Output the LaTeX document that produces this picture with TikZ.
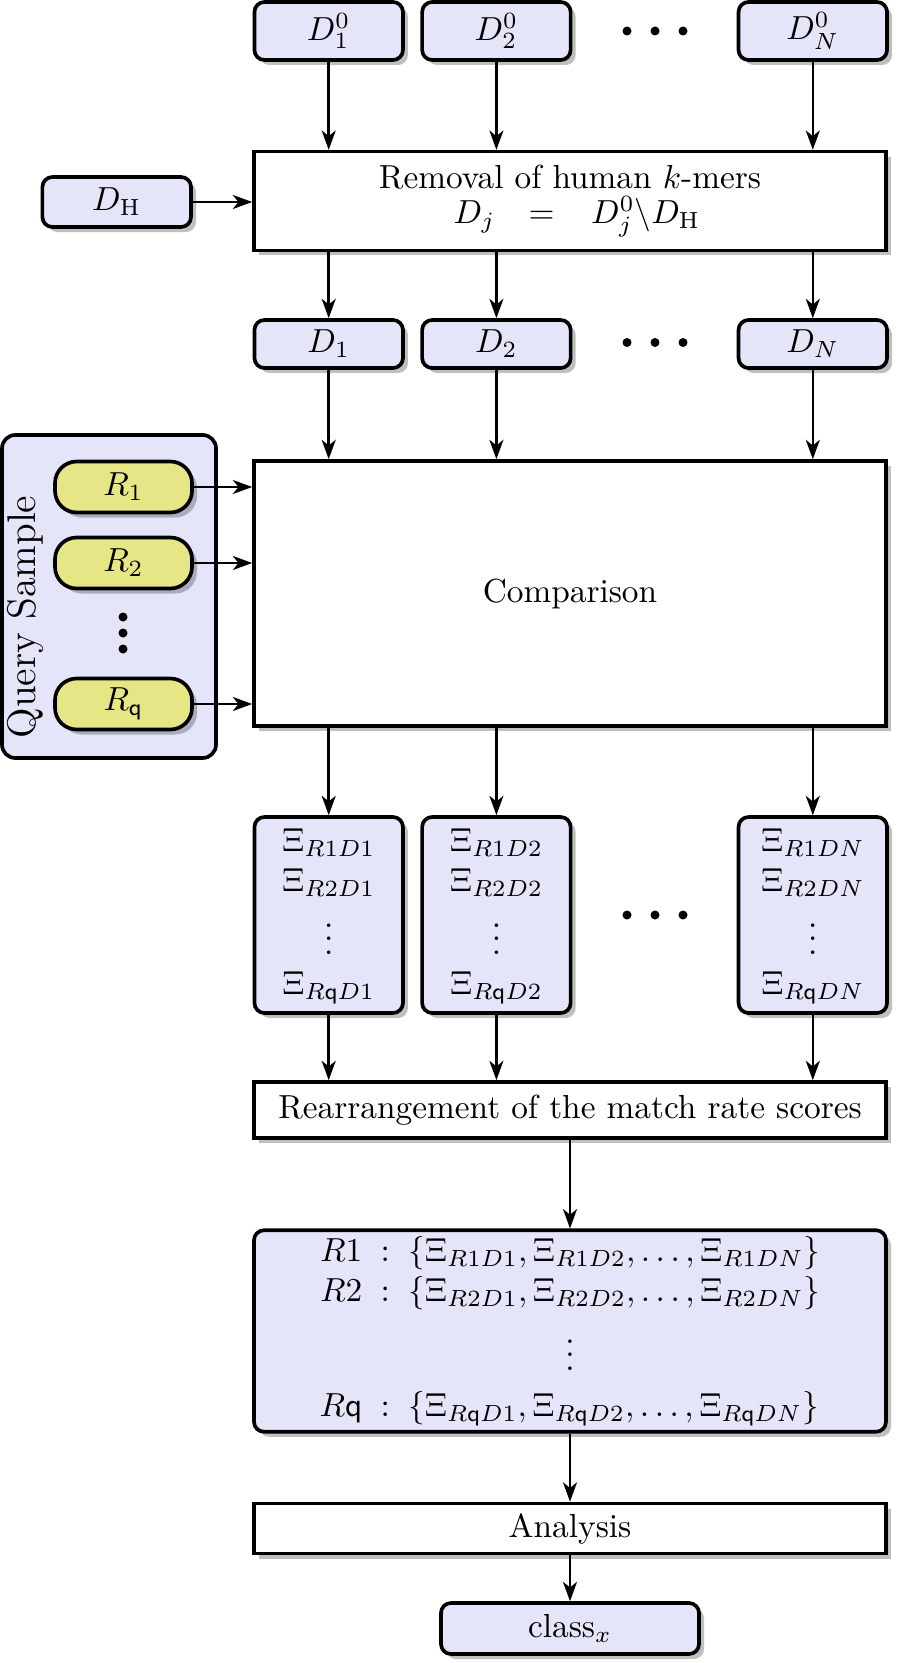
\documentclass[tikz,border=0pt]{standalone}
\usepackage{amsmath}
\usetikzlibrary{arrows.meta,shadows}
\definecolor{lav}{RGB}{229,229,250}
\definecolor{ylw}{RGB}{230,230,135}
\begin{document}
\begin{tikzpicture}[x=0.3pt,y=-0.3pt,
  shad/.style={drop shadow={shadow xshift=1.5pt,shadow yshift=-1.5pt,fill=black,opacity=0.25}},
  wh/.style 2 args={minimum width=#1*0.3pt,minimum height=#2*0.3pt},
  dbox/.style={draw,line width=1.1pt,rounded corners=3pt,fill=lav,shad,inner sep=0pt},
  pbox/.style={draw,line width=1.1pt,fill=white,shad,inner sep=0pt},
  rbox/.style={draw,line width=1.1pt,rounded corners=6.5pt,fill=ylw,shad,inner sep=0pt,wh={137}{51}},
  arr/.style={line width=0.75pt,-{Stealth[length=5.8pt,width=4.2pt,inset=1.7pt]}},
  bdot/.style={circle,fill=black,inner sep=0pt,minimum size=2.7pt},
]
\useasboundingbox (0,0) rectangle (896,1663);

% top row
\node[dbox,wh={148.5}{58}] (d10) at (328.7,31) {$D_1^0$};
\node[dbox,wh={148.5}{58}] (d20) at (496.4,31) {$D_2^0$};
\node[dbox,wh={148.5}{58}] (dN0) at (812.8,31) {$D_N^0$};
\node[bdot] (ta) at (627,31) {};
\node[bdot] (tb) at (655,31) {};
\node[bdot] (tc) at (683,31) {};

% removal
\node[pbox,wh={632}{98.7}] (rem) at (570,201) {};
\node (remA) at (570,177) {Removal of human $k$-mers};
\node (remB) at (577,217) {$D_j\hspace{10pt}{=}\hspace{11pt}D_j^0\backslash D_{\mathrm{H}}$};
\node[dbox,wh={148.6}{50}] (dH) at (116.7,202) {$D_{\mathrm{H}}$};

% second row
\node[dbox,wh={148.5}{48}] (d1) at (328.7,344) {$D_1$};
\node[dbox,wh={148.5}{48}] (d2) at (496.4,344) {$D_2$};
\node[dbox,wh={148.5}{48}] (dN) at (812.8,344) {$D_N$};
\node[bdot] (sa) at (627,342.5) {};
\node[bdot] (sb) at (655,342.5) {};
\node[bdot] (sc) at (683,342.5) {};

% comparison
\node[pbox,wh={632}{265}] (comp) at (570,593.5) {Comparison};

% query sample
\node[draw,line width=1.1pt,rounded corners=4pt,fill=lav,inner sep=0pt,wh={214}{323}] (qs) at (109,596.5) {};
\node[rotate=90,font=\large,inner sep=0pt] (qsl) at (25,617) {Query Sample};
\node[rbox] (r1) at (123.5,487) {$R_1$};
\node[rbox] (r2) at (123.5,563) {$R_2$};
\node[rbox] (rq) at (123.5,704) {$R_{\mathsf{q}}$};
\node[bdot] (qa) at (123,617) {};
\node[bdot] (qb) at (123,633) {};
\node[bdot] (qc) at (123,649) {};

% Xi boxes
\node[dbox,wh={148.5}{196}] (x1) at (328.7,915)
  {$\begin{array}{c}\Xi_{R1D1}\\ \Xi_{R2D1}\\ \vdots\\ \Xi_{R\mathsf{q}D1}\end{array}$};
\node[dbox,wh={148.5}{196}] (x2) at (496.4,915)
  {$\begin{array}{c}\Xi_{R1D2}\\ \Xi_{R2D2}\\ \vdots\\ \Xi_{R\mathsf{q}D2}\end{array}$};
\node[dbox,wh={148.5}{196}] (xN) at (812.8,915)
  {$\begin{array}{c}\Xi_{R1DN}\\ \Xi_{R2DN}\\ \vdots\\ \Xi_{R\mathsf{q}DN}\end{array}$};
\node[bdot] (ma) at (627,915) {};
\node[bdot] (mb) at (655,915) {};
\node[bdot] (mc) at (683,915) {};

% rearrangement
\node[pbox,wh={632}{56}] (rea) at (570,1110) {Rearrangement of the match rate scores};

% result
\node[dbox,wh={632}{201.5}] (res) at (570,1331)
  {$\begin{array}{r@{\hspace{5.5pt}:\hspace{5.5pt}}l}
   R1 & \{\Xi_{R1D1},\Xi_{R1D2},\ldots,\Xi_{R1DN}\}\\
   R2 & \{\Xi_{R2D1},\Xi_{R2D2},\ldots,\Xi_{R2DN}\}\\[2pt]
   \multicolumn{2}{c}{\vdots}\\[2pt]
   R\mathsf{q} & \{\Xi_{R\mathsf{q}D1},\Xi_{R\mathsf{q}D2},\ldots,\Xi_{R\mathsf{q}DN}\}
  \end{array}$};

% analysis and class
\node[pbox,wh={632}{50}] (ana) at (570,1528.5) {Analysis};
\node[dbox,wh={258}{51}] (cls) at (570,1628.5) {class$_x$};

% arrows
\foreach \a/\b in {d10/d1,d20/d2,dN0/dN}{
  \draw[arr] (\a.south) -- (\a.south |- rem.north);
  \draw[arr] (rem.south -| \b.north) -- (\b.north);
  \draw[arr] (\b.south) -- (\b.south |- comp.north);
}
\draw[arr] (dH.east) -- (dH.east -| rem.west);
\foreach \r in {r1,r2,rq}{
  \draw[arr] (\r.east) -- (\r.east -| comp.west);
}
\foreach \x in {x1,x2,xN}{
  \draw[arr] (comp.south -| \x.north) -- (\x.north);
  \draw[arr] (\x.south) -- (\x.south |- rea.north);
}
\draw[arr] (rea.south) -- (res.north);
\draw[arr] (res.south) -- (ana.north);
\draw[arr] (ana.south) -- (cls.north);
\end{tikzpicture}
\end{document}
